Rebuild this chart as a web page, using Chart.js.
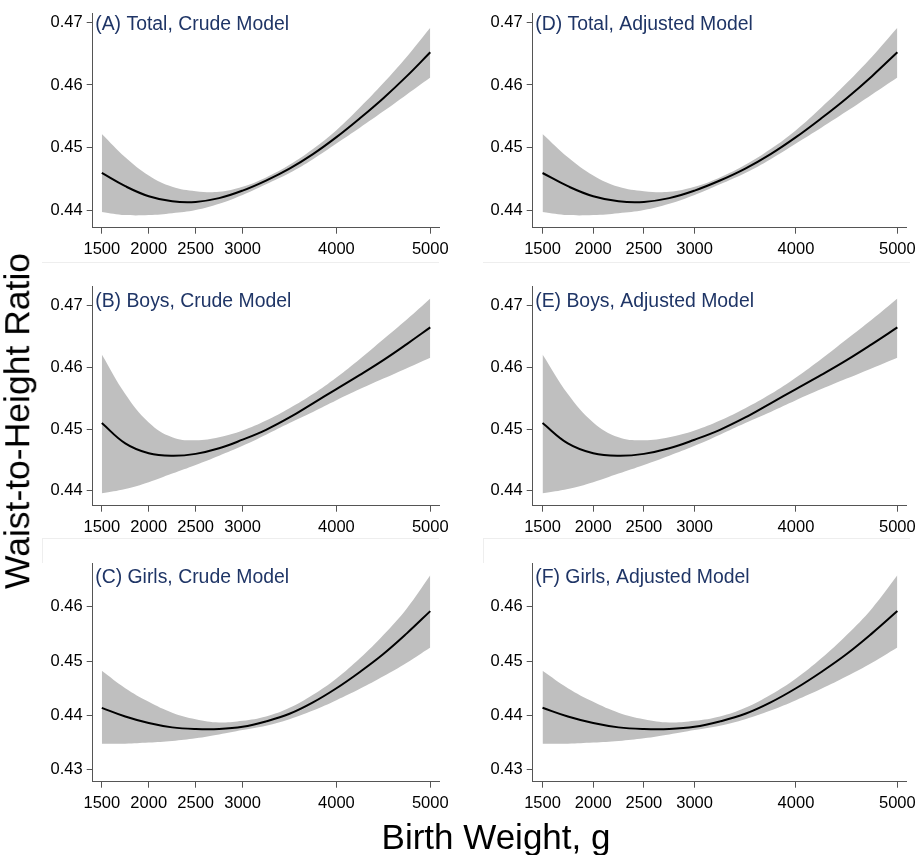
<!DOCTYPE html>
<html>
<head>
<meta charset="utf-8">
<script src="https://cdn.jsdelivr.net/npm/chart.js@4.4.0/dist/chart.umd.min.js"></script>
<style>
  html, body { margin: 0; padding: 0; background: #fff; }
  #page { position: relative; width: 922px; height: 855px; overflow: hidden; font-family: "Liberation Sans", Arial, sans-serif; }
  .panel { position: absolute; }
  .faint { position: absolute; background: #eeeeee; }
  #ytitle { position: absolute; left: 18px; top: 421px; transform: translate(-50%, -50%) rotate(-90deg); font-size: 35.5px; white-space: nowrap; color: #000; line-height: 1; }
  #xtitle { position: absolute; left: 496px; top: 847px; transform: translate(-50%, -80%); font-size: 35px; white-space: nowrap; color: #000; line-height: 1; }
</style>
</head>
<body>
<div id="page">
  <div class="faint" style="left:42px;top:262px;width:397px;height:1px"></div>
  <div class="faint" style="left:483px;top:262px;width:427px;height:1px"></div>
  <div class="faint" style="left:42px;top:538px;width:397px;height:1px"></div>
  <div class="faint" style="left:483px;top:538px;width:427px;height:1px"></div>
  <div class="faint" style="left:42px;top:538px;width:1px;height:25px"></div>
  <div class="faint" style="left:483px;top:538px;width:1px;height:25px"></div>

  <div class="panel" style="left:0;top:0"><canvas id="chartA" width="460" height="262"></canvas></div>
  <div class="panel" style="left:0;top:262px"><canvas id="chartB" width="460" height="276"></canvas></div>
  <div class="panel" style="left:0;top:538px"><canvas id="chartC" width="460" height="280"></canvas></div>
  <div class="panel" style="left:460px;top:0"><canvas id="chartD" width="462" height="262"></canvas></div>
  <div class="panel" style="left:460px;top:262px"><canvas id="chartE" width="462" height="276"></canvas></div>
  <div class="panel" style="left:460px;top:538px"><canvas id="chartF" width="462" height="280"></canvas></div>

  <div id="ytitle">Waist-to-Height Ratio</div>
  <div id="xtitle">Birth Weight, g</div>
</div>
<script>
// --- Data ---
const birthWeight = [1500, 1750, 2000, 2250, 2500, 2750, 3000, 3250, 3500, 3750, 4000, 4250, 4500, 4750, 5000];
const xTicks = [1500, 2000, 2500, 3000, 4000, 5000];
const yTicksUpper = [0.44, 0.45, 0.46, 0.47];
const yTicksGirls = [0.43, 0.44, 0.45, 0.46];

// (A) Total, crude
const totalCrudeFit   = [0.4460, 0.4439, 0.4423, 0.4415, 0.4414, 0.4420, 0.4432, 0.4448, 0.4467, 0.4490, 0.4517, 0.4547, 0.4579, 0.4614, 0.4652];
const totalCrudeUpper = [0.4522, 0.4485, 0.4456, 0.4438, 0.4431, 0.4430, 0.4438, 0.4453, 0.4473, 0.4498, 0.4528, 0.4564, 0.4603, 0.4645, 0.4691];
const totalCrudeLower = [0.4398, 0.4393, 0.4393, 0.4396, 0.4401, 0.4411, 0.4425, 0.4442, 0.4460, 0.4482, 0.4507, 0.4532, 0.4558, 0.4585, 0.4612];

// (B) Boys, crude
const boysCrudeFit   = [0.4510, 0.4477, 0.4461, 0.4457, 0.4460, 0.4469, 0.4483, 0.4499, 0.4519, 0.4542, 0.4565, 0.4588, 0.4612, 0.4638, 0.4665];
const boysCrudeUpper = [0.4621, 0.4557, 0.4511, 0.4487, 0.4482, 0.4487, 0.4498, 0.4514, 0.4534, 0.4557, 0.4584, 0.4614, 0.4646, 0.4678, 0.4712];
const boysCrudeLower = [0.4396, 0.4403, 0.4414, 0.4428, 0.4442, 0.4457, 0.4473, 0.4491, 0.4510, 0.4528, 0.4547, 0.4565, 0.4582, 0.4599, 0.4616];

// (C) Girls, crude
const girlsCrudeFit   = [0.4414, 0.4398, 0.4386, 0.4378, 0.4375, 0.4375, 0.4379, 0.4389, 0.4403, 0.4424, 0.4450, 0.4480, 0.4513, 0.4551, 0.4592];
const girlsCrudeUpper = [0.4482, 0.4450, 0.4425, 0.4405, 0.4393, 0.4387, 0.4390, 0.4398, 0.4414, 0.4438, 0.4468, 0.4505, 0.4548, 0.4597, 0.4658];
const girlsCrudeLower = [0.4348, 0.4348, 0.4350, 0.4353, 0.4358, 0.4365, 0.4373, 0.4381, 0.4393, 0.4409, 0.4428, 0.4449, 0.4472, 0.4497, 0.4525];

// (D) Total, adjusted
const totalAdjFit   = [0.4460, 0.4439, 0.4423, 0.4415, 0.4414, 0.4420, 0.4432, 0.4448, 0.4467, 0.4490, 0.4517, 0.4547, 0.4579, 0.4614, 0.4652];
const totalAdjUpper = [0.4522, 0.4485, 0.4456, 0.4438, 0.4431, 0.4430, 0.4438, 0.4453, 0.4473, 0.4498, 0.4528, 0.4564, 0.4603, 0.4645, 0.4691];
const totalAdjLower = [0.4398, 0.4393, 0.4393, 0.4396, 0.4401, 0.4411, 0.4425, 0.4442, 0.4460, 0.4482, 0.4507, 0.4532, 0.4558, 0.4585, 0.4612];

// (E) Boys, adjusted
const boysAdjFit   = [0.4510, 0.4477, 0.4461, 0.4457, 0.4460, 0.4469, 0.4483, 0.4499, 0.4519, 0.4542, 0.4565, 0.4588, 0.4612, 0.4638, 0.4665];
const boysAdjUpper = [0.4621, 0.4557, 0.4511, 0.4487, 0.4482, 0.4487, 0.4498, 0.4514, 0.4534, 0.4557, 0.4584, 0.4614, 0.4646, 0.4678, 0.4712];
const boysAdjLower = [0.4396, 0.4403, 0.4414, 0.4428, 0.4442, 0.4457, 0.4473, 0.4491, 0.4510, 0.4528, 0.4547, 0.4565, 0.4582, 0.4599, 0.4616];

// (F) Girls, adjusted
const girlsAdjFit   = [0.4414, 0.4398, 0.4386, 0.4378, 0.4375, 0.4375, 0.4379, 0.4389, 0.4403, 0.4424, 0.4450, 0.4480, 0.4513, 0.4551, 0.4592];
const girlsAdjUpper = [0.4482, 0.4450, 0.4425, 0.4405, 0.4393, 0.4387, 0.4390, 0.4398, 0.4414, 0.4438, 0.4468, 0.4505, 0.4548, 0.4597, 0.4658];
const girlsAdjLower = [0.4348, 0.4348, 0.4350, 0.4353, 0.4358, 0.4365, 0.4373, 0.4381, 0.4393, 0.4409, 0.4428, 0.4449, 0.4472, 0.4497, 0.4525];

// --- Chart setup ---
const FONT = '"Liberation Sans", Arial, sans-serif';
const AXIS_COLOR = '#555555';
const BAND_COLOR = '#bfbfbf';
const TITLE_COLOR = '#1f3566';

Chart.defaults.font.family = FONT;
Chart.defaults.color = '#000';
Chart.defaults.plugins.legend.display = false;
Chart.defaults.plugins.tooltip.enabled = false;

const toPoints = (ys) => birthWeight.map((x, i) => ({ x: x, y: ys[i] }));

// panel title drawn inside the plot area, top-left
const panelTitle = {
    id: 'panelTitle',
    afterDraw(chart, args, opts) {
        const ctx = chart.ctx;
        ctx.save();
        ctx.font = '19.4px ' + FONT;
        ctx.fillStyle = TITLE_COLOR;
        ctx.textBaseline = 'alphabetic';
        ctx.textAlign = 'left';
        ctx.fillText(opts.text, chart.chartArea.left + 2.5, chart.chartArea.top + opts.offset);
        ctx.restore();
    }
};

function makePanel(id, title, fit, lower, upper, yMin, yMax, yTicks, geo) {
    const ctx = document.getElementById(id).getContext('2d');
    return new Chart(ctx, {
        type: 'line',
        data: {
            datasets: [
                // order: lower number is drawn on top, so the fitted line sits over the band
                { data: toPoints(lower), order: 2, borderWidth: 0, pointRadius: 0, fill: false, tension: 0.4 },
                { data: toPoints(upper), order: 1, borderWidth: 0, pointRadius: 0, fill: '-1', backgroundColor: BAND_COLOR, tension: 0.4 },
                { data: toPoints(fit), order: 0, borderColor: '#000', borderWidth: 2, pointRadius: 0, fill: false, tension: 0.4 }
            ]
        },
        plugins: [panelTitle],
        options: {
            responsive: false,
            animation: false,
            layout: { padding: { top: geo.padTop, right: geo.padRight, left: 0, bottom: 0 } },
            plugins: {
                panelTitle: { text: title, offset: geo.titleOffset }
            },
            scales: {
                x: {
                    type: 'linear',
                    min: 1403,
                    max: 5093,
                    afterBuildTicks: (s) => { s.ticks = xTicks.map(v => ({ value: v })); },
                    afterFit: (s) => { s.height = geo.xHeight; },
                    grid: { drawOnChartArea: false, drawTicks: true, tickLength: 6, color: AXIS_COLOR },
                    border: { color: AXIS_COLOR, width: 1 },
                    ticks: { font: { size: 16.5 }, padding: 6, maxRotation: 0, autoSkip: false, callback: (v) => String(v) }
                },
                y: {
                    min: yMin,
                    max: yMax,
                    afterBuildTicks: (s) => { s.ticks = yTicks.map(v => ({ value: v })); },
                    afterFit: (s) => { s.width = geo.yWidth; },
                    grid: { drawOnChartArea: false, drawTicks: true, tickLength: 6, color: AXIS_COLOR },
                    border: { color: AXIS_COLOR, width: 1 },
                    ticks: { font: { size: 16.5 }, padding: 4, autoSkip: false, callback: (v) => v.toFixed(2) }
                }
            }
        }
    });
}

// geometry of each row / column in the page
const rows = [
    { padTop: 12,   xHeight: 34.3, titleOffset: 16.5 },
    { padTop: 24.7, xHeight: 32.3, titleOffset: 20 },
    { padTop: 25.3, xHeight: 36.3, titleOffset: 19.4 }
];
const cols = [
    { yWidth: 92.7, padRight: 21 },
    { yWidth: 72.7, padRight: 12 }
];
const geo = (r, c) => Object.assign({}, rows[r], cols[c]);

makePanel('chartA', '(A) Total, Crude Model', totalCrudeFit, totalCrudeLower, totalCrudeUpper, 0.4373, 0.4713, yTicksUpper, geo(0, 0));
makePanel('chartB', '(B) Boys, Crude Model', boysCrudeFit, boysCrudeLower, boysCrudeUpper, 0.4376, 0.4731, yTicksUpper, geo(1, 0));
makePanel('chartC', '(C) Girls, Crude Model', girlsCrudeFit, girlsCrudeLower, girlsCrudeUpper, 0.4278, 0.4680, yTicksGirls, geo(2, 0));
makePanel('chartD', '(D) Total, Adjusted Model', totalAdjFit, totalAdjLower, totalAdjUpper, 0.4373, 0.4713, yTicksUpper, geo(0, 1));
makePanel('chartE', '(E) Boys, Adjusted Model', boysAdjFit, boysAdjLower, boysAdjUpper, 0.4376, 0.4731, yTicksUpper, geo(1, 1));
makePanel('chartF', '(F) Girls, Adjusted Model', girlsAdjFit, girlsAdjLower, girlsAdjUpper, 0.4278, 0.4680, yTicksGirls, geo(2, 1));
</script>
</body>
</html>
